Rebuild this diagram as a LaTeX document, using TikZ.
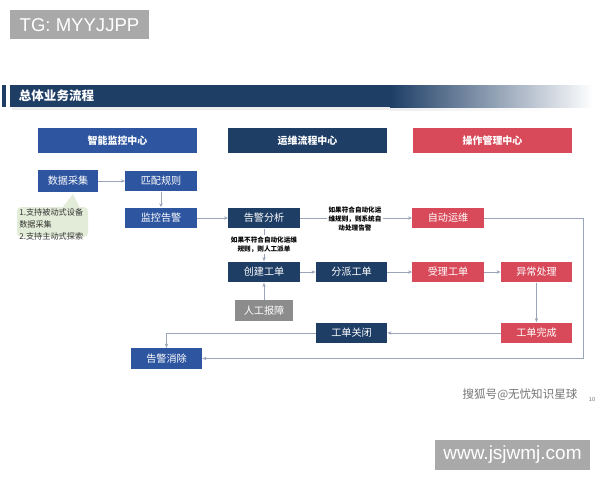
\documentclass[tikz,border=0pt]{standalone}
\usepackage{fontspec}
\setmainfont{Noto Sans CJK SC}
\newfontfamily\latinfont{Liberation Sans}
\usetikzlibrary{arrows.meta}

\definecolor{bluebx}{HTML}{2E55A0}
\definecolor{navybx}{HTML}{1E3E66}
\definecolor{redbx}{HTML}{D84A5A}
\definecolor{graybx}{HTML}{8C8C8C}
\definecolor{markgray}{HTML}{A9A9A9}
\definecolor{linec}{HTML}{9AA6B8}
\definecolor{notegreen}{HTML}{E3ECD8}

\tikzset{
  box/.style={minimum width=1.775cm, minimum height=0.52cm, inner sep=0pt,
    text=white, font=\fontsize{7.2}{8}\selectfont},
  bluebox/.style={box, fill=bluebx},
  navybox/.style={box, fill=navybx},
  redbox/.style={box, fill=redbx},
  graybox/.style={box, fill=graybx, minimum width=1.45cm},
  headbox/.style={minimum width=3.975cm, minimum height=0.625cm, inner sep=0pt,
    text=white, font=\fontsize{7.1}{8}\selectfont\bfseries},
  remark/.style={fill=white, inner sep=1pt, align=center,
    font=\fontsize{4.7}{6.5}\selectfont\bfseries},
  flow/.style={-{Stealth[length=3pt,width=2.4pt]}, draw=linec, line width=0.6pt}
}

\begin{document}
\begin{tikzpicture}[x=0.025cm, y=-0.025cm]
  \useasboundingbox (0,0) rectangle (600,480);

  % marks
  \fill[markgray] (10,10) rectangle (149,39);
  \node[text=white, font=\latinfont\fontsize{13.2}{14}\selectfont] (tg) at (79.5,25) {TG: MYYJJPP};
  \fill[markgray] (435,440) rectangle (590,470);
  \node[text=white, font=\latinfont\fontsize{13.5}{14}\selectfont] (site) at (512.5,455) {www.jsjwmj.com};
  \node[text=black!55, font=\fontsize{8.2}{9}\selectfont] (sohu) at (520,395) {搜狐号@无忧知识星球};
  \node[text=black!55, font=\latinfont\fontsize{4}{5}\selectfont] (page) at (592,400) {10};

  % title bar
  \fill[black!7] (12,106) rectangle (390,110);
  \shade[left color=black!7, right color=white] (390,106) rectangle (560,110);
  \fill[navybx] (2,85) rectangle (6,107);
  \fill[navybx] (10,85) rectangle (390,107);
  \shade[left color=navybx, right color=white] (390,85) rectangle (593,107);
  \node[anchor=west, text=white, font=\fontsize{8.9}{10}\selectfont\bfseries] (title) at (14,96) {总体业务流程};

  % column heads
  \draw
    (117.5,140.5) node[headbox, fill=bluebx] (monitor){智能监控中心}
    (307.5,140.5) node[headbox, fill=navybx] (ops){运维流程中心}
    (492.5,140.5) node[headbox, fill=redbx] (manage){操作管理中心};

  % boxes
  \draw
    (68,181) node[bluebox, minimum width=1.5cm, minimum height=0.55cm] (collect){数据采集}
    (161,181) node[bluebox] (match){匹配规则}
    (161,218) node[bluebox] (alarm){监控告警}
    (166.5,358.5) node[bluebox] (clear){告警消除}
    (264,218) node[navybox] (analyse){告警分析}
    (264,272) node[navybox] (create){创建工单}
    (351.5,272) node[navybox] (dispatch){分派工单}
    (351.5,333) node[navybox] (close){工单关闭}
    (264,310.5) node[graybox] (report){人工报障}
    (448,218) node[redbox] (auto){自动运维}
    (448,272) node[redbox] (accept){受理工单}
    (536.5,272) node[redbox] (handle){异常处理}
    (536.5,333) node[redbox] (done){工单完成};

  % note
  \fill[notegreen, rounded corners=3pt] (17,207) rectangle (88,237);
  \fill[notegreen] (62,208) -- (73,194) -- (80,208) -- cycle;
  \node[anchor=north west, align=left, inner sep=0pt, text=black!80,
    font=\fontsize{5.8}{8.5}\selectfont] (note) at (19,208) {1.支持被动式设备\\数据采集\\2.支持主动式探索};

  \coordinate (rturn) at (583,358.5);
  \begin{scope}[flow]
    \draw (collect) to (match);
    \draw (match) to (alarm);
    \draw (alarm) to (analyse);
    \draw (analyse) to (auto);
    \draw (analyse) to (create);
    \draw (report) to (create);
    \draw (create) to (dispatch);
    \draw (dispatch) to (accept);
    \draw (accept) to (handle);
    \draw (handle) to (done);
    \draw (done) to (close);
    \draw (close.west) -| (clear.north);
    \draw (auto.east) -| (rturn) -- (clear.east);
  \end{scope}

  \node[remark] (manual) at (264,244.5) {如果不符合自动化运维\\规则，则人工派单};
  \node[remark] (autorule) at (355,219) {如果符合自动化运\\维规则，则系统自\\动处理告警};
\end{tikzpicture}
\end{document}
